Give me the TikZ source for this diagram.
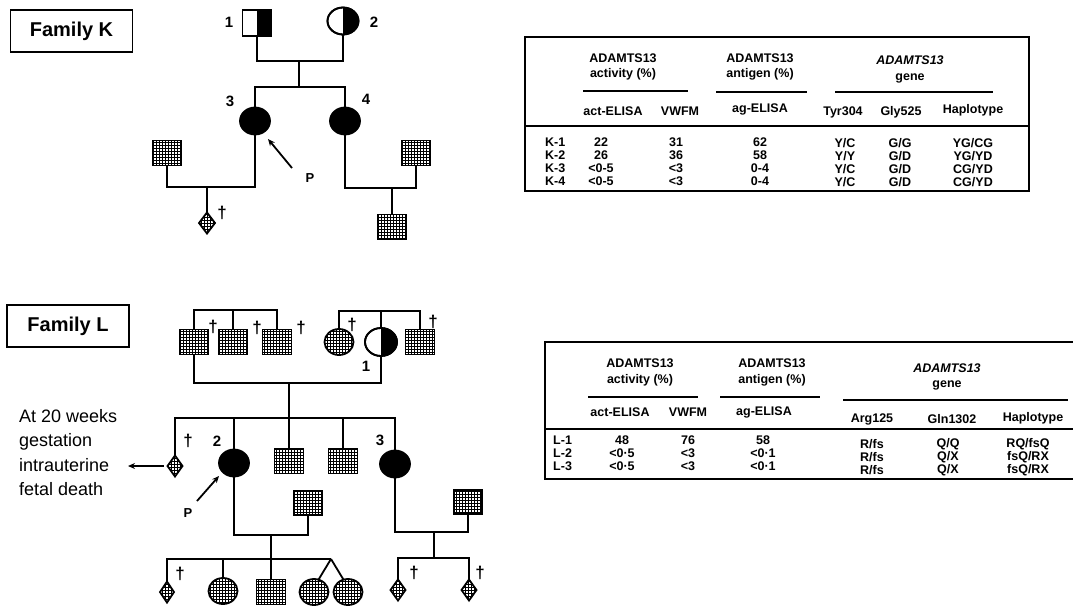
\documentclass[tikz,border=0pt]{standalone}
\usepackage{fontspec}
\setmainfont{Liberation Sans}
\usetikzlibrary{shapes.geometric,patterns,arrows.meta}
\pgfdeclarepatternformonly{mesh}{\pgfqpoint{-0.5pt}{-0.5pt}}{\pgfqpoint{3.5pt}{3.5pt}}{\pgfqpoint{3pt}{3pt}}{%
  \pgfsetlinewidth{1pt}%
  \pgfpathmoveto{\pgfqpoint{0pt}{0pt}}\pgfpathlineto{\pgfqpoint{3pt}{0pt}}%
  \pgfpathmoveto{\pgfqpoint{0pt}{0pt}}\pgfpathlineto{\pgfqpoint{0pt}{3pt}}%
  \pgfusepath{stroke}}
\begin{document}
\begin{tikzpicture}[x=1pt,y=-1pt,
  ln/.style={line width=1.8pt},
  tbl/.style={line width=1.8pt},
  uline/.style={line width=1.5pt},
  base/.style={draw, line width=1.8pt, inner sep=0pt, outer sep=0pt},
  msq/.style={base, rectangle, minimum width=29pt, minimum height=25pt, pattern=mesh},
  hsq/.style={base, rectangle, minimum width=29pt, minimum height=26pt, fill=white},
  mcirc/.style={base, ellipse, minimum width=29pt, minimum height=26pt, pattern=mesh},
  fcirc/.style={base, ellipse, minimum width=30pt, minimum height=27pt, fill=black},
  hcirc/.style={base, ellipse, minimum width=31pt, minimum height=27pt, fill=white},
  mdiam/.style={base, diamond, minimum width=16pt, minimum height=21pt, pattern=mesh},
  famlbl/.style={draw, line width=1.8pt, minimum width=122pt, minimum height=42pt, inner sep=0pt, font=\bfseries\fontsize{20}{20}\selectfont},
  idl/.style={inner sep=0pt, font=\bfseries\fontsize{15}{15}\selectfont},
  plbl/.style={inner sep=0pt, font=\bfseries\fontsize{13}{13}\selectfont},
  dag/.style={inner sep=0pt, font=\bfseries\fontsize{17}{17}\selectfont},
  tt/.style={inner sep=0pt, font=\bfseries\fontsize{12.5}{12.5}\selectfont},
  ti/.style={inner sep=0pt, font=\bfseries\itshape\fontsize{12.5}{12.5}\selectfont},
  note/.style={inner sep=0pt, align=left, anchor=north west, font=\fontsize{18}{24.5}\selectfont},
  parrow/.style={line width=1.8pt, -{Stealth[length=7pt,width=6pt]}}
]
\useasboundingbox (0,0) rectangle (1073,608);

%================ FAMILY K ================
\node[famlbl] (famK) at (71.5,31) {Family K};

\node[hsq] (K1) at (257,23) {};
\fill (K1.north) rectangle (K1.south east);
\draw[line width=1.8pt] (K1.north west) rectangle (K1.south east);
\node[idl] (K1l) at (229,22) {1};

\node[hcirc] (K2) at (343,21) {};
\fill (K2.north) arc[start angle=90, end angle=-90, x radius=15.5pt, y radius=13.5pt] -- cycle;
\draw[line width=1.8pt] (K2.center) ellipse[x radius=15.5pt, y radius=13.5pt];
\node[idl] (K2l) at (374,22) {2};

\coordinate (Km) at (299,61);
\coordinate (Ks) at (299,87);
\draw[ln] (K1.south) |- (Km) -| (K2.south);
\draw[ln] (Km) -- (Ks);

\node[fcirc] (K3) at (255,121) {};
\node[fcirc] (K4) at (345,121) {};
\node[idl] (K3l) at (230,101) {3};
\node[idl] (K4l) at (366,99) {4};
\draw[ln] (K3.north) |- (Ks) -| (K4.north);

\node[msq] (K3s) at (167,153) {};
\coordinate (K3m) at (207,187);
\draw[ln] (K3.south) |- (K3m) -| (K3s.south);
\node[mdiam] (K3c) at (207,223) {};
\draw[ln] (K3m) -- (K3c.north);
\node[dag] (K3cd) at (222,213) {†};

\coordinate (KPs) at (292,168);
\coordinate (KPe) at (268,139);
\draw[parrow] (KPs) -- (KPe);
\node[plbl] (KP) at (310,178) {P};

\node[msq] (K4s) at (416,153) {};
\coordinate (K4m) at (392,188);
\draw[ln] (K4.south) |- (K4m) -| (K4s.south);
\node[msq] (K4c) at (392,227) {};
\draw[ln] (K4m) -- (K4c.north);

%================ TABLE K ================
\draw[tbl] (525,37) rectangle (1029,191);
\draw[tbl] (525,126) -- (1029,126);
\draw[uline] (583,91) -- (688,91);
\draw[uline] (716,92) -- (807,92);
\draw[uline] (835,92) -- (993,92);
\node[tt] (tKa1) at (623,58) {ADAMTS13};
\node[tt] (tKa2) at (623,74) {activity (\%)};
\node[tt] (tKb1) at (760,58) {ADAMTS13};
\node[tt] (tKb2) at (760,74) {antigen (\%)};
\node[ti] (tKc1) at (910,60) {ADAMTS13};
\node[tt] (tKc2) at (910,78) {gene};
\node[tt] (tKh1) at (613,111) {act-ELISA};
\node[tt] (tKh2) at (680,111) {VWFM};
\node[tt] (tKh3) at (760,109) {ag-ELISA};
\node[tt] (tKh4) at (843,112) {Tyr304};
\node[tt] (tKh5) at (901,112) {Gly525};
\node[tt] (tKh6) at (973,110) {Haplotype};
\foreach \r/\y/\a/\b/\c/\d/\e/\f in {
  1/142/22/31/62/Y\slash C/G\slash G/YG\slash CG,
  2/155/26/36/58/Y\slash Y/G\slash D/YG\slash YD,
  3/168/<0-5/<3/0-4/Y\slash C/G\slash D/CG\slash YD,
  4/181/<0-5/<3/0-4/Y\slash C/G\slash D/CG\slash YD}{
  \node[tt, anchor=west] (tKr\r) at (545,\y) {K-\r};
  \node[tt] (tKa\r x) at (601,\y) {\a};
  \node[tt] (tKb\r x) at (676,\y) {\b};
  \node[tt] (tKc\r x) at (760,\y) {\c};
  \node[tt] (tKd\r x) at (845,\y+1) {\d};
  \node[tt] (tKe\r x) at (900,\y+1) {\e};
  \node[tt] (tKf\r x) at (973,\y+1) {\f};
}

%================ FAMILY L ================
\node[famlbl] (famL) at (68,326) {Family L};

\node[msq] (LA) at (194,342) {};
\node[msq] (LB) at (233,342) {};
\node[msq] (LC) at (277,342) {};
\node[dag] (LAd) at (213,327) {†};
\node[dag] (LBd) at (257,328) {†};
\node[dag] (LCd) at (301,328) {†};
\coordinate (LAt) at (233,310);
\draw[ln] (LA.north) |- (LAt) -| (LC.north);
\draw[ln] (LAt) -- (LB.north);

\node[mcirc] (LD) at (339,342) {};
\node[dag] (LDd) at (352,325) {†};
\node[hcirc, minimum width=32pt, minimum height=28pt] (L1) at (381,342) {};
\fill (L1.north) arc[start angle=90, end angle=-90, x radius=16pt, y radius=14pt] -- cycle;
\draw[line width=1.8pt] (L1.center) ellipse[x radius=16pt, y radius=14pt];
\node[idl] (L1l) at (366,366) {1};
\node[msq] (LE) at (420,342) {};
\node[dag] (LEd) at (433,322) {†};
\coordinate (LDt) at (381,311);
\draw[ln] (LD.north) |- (LDt) -| (LE.north);
\draw[ln] (LDt) -- (L1.north);

\coordinate (Lm) at (289,383);
\draw[ln] (LA.south) |- (Lm) -| (L1.south);
\coordinate (Ls) at (289,418);

\node[mdiam, minimum width=15pt] (LG) at (175,466) {};
\node[dag] (LGd) at (188,441) {†};
\node[note] (Lnote) at (19,409) {At 20 weeks\\gestation\\intrauterine\\fetal death};
\coordinate (Larr) at (128,466);
\draw[parrow, shorten <=4pt] (LG.west) -- (Larr);

\node[fcirc] (L2) at (234,463) {};
\node[idl] (L2l) at (217,441) {2};
\coordinate (LPs) at (197,501);
\coordinate (LPe) at (219,476);
\draw[parrow] (LPs) -- (LPe);
\node[plbl] (LP) at (188,513) {P};

\node[msq] (LF) at (289,461) {};
\node[msq] (LH) at (343,461) {};
\node[fcirc] (L3) at (395,464) {};
\node[idl] (L3l) at (380,440) {3};

\draw[ln] (Lm) -- (LF.north);
\draw[ln] (LG.north) |- (Ls) -| (L3.north);
\draw[ln] (L2.north) -- (L2.north |- Ls);
\draw[ln] (LH.north) -- (LH.north |- Ls);

% children of L-2
\node[msq, minimum width=28pt, minimum height=24pt] (L2s) at (308,503) {};
\coordinate (L2m) at (271,535);
\draw[ln] (L2.south) |- (L2m) -| (L2s.south);
\coordinate (Ltw) at (331,559);
\node[mdiam, minimum width=14pt] (Lc1) at (167,592) {};
\node[dag] (Lc1d) at (180,574) {†};
\node[mcirc] (Lc2) at (223,591) {};
\node[msq] (Lc3) at (271,592) {};
\node[mcirc] (Lc4) at (314,592) {};
\node[mcirc] (Lc5) at (348,592) {};
\draw[ln] (L2m) -- (Lc3.north);
\draw[ln] (Lc1.north) |- (Ltw);
\draw[ln] (Lc2.north) -- (Lc2.north |- Ltw);
\draw[ln] (Ltw) -- (Lc4.70);
\draw[ln] (Ltw) -- (Lc5.110);

% children of L-3
\node[msq, minimum width=28pt, minimum height=24pt] (L3s) at (468,502) {};
\coordinate (L3m) at (434,532);
\draw[ln] (L3.south) |- (L3m) -| (L3s.south);
\coordinate (L3c) at (434,558);
\draw[ln] (L3m) -- (L3c);
\node[mdiam, minimum width=15pt] (Ld1) at (398,590) {};
\node[mdiam, minimum width=15pt] (Ld2) at (469,590) {};
\node[dag] (Ld1d) at (414,573) {†};
\node[dag] (Ld2d) at (480,573) {†};
\draw[ln] (Ld1.north) |- (L3c) -| (Ld2.north);

%================ TABLE L ================
\draw[tbl] (1073,342) -- (545,342) -- (545,479) -- (1073,479);
\draw[tbl] (545,429) -- (1073,429);
\draw[uline] (588,397) -- (698,397);
\draw[uline] (720,397) -- (820,397);
\draw[uline] (843,400) -- (1068,400);
\node[tt] (tLa1) at (640,363) {ADAMTS13};
\node[tt] (tLa2) at (640,380) {activity (\%)};
\node[tt] (tLb1) at (772,363) {ADAMTS13};
\node[tt] (tLb2) at (772,380) {antigen (\%)};
\node[ti] (tLc1) at (947,368) {ADAMTS13};
\node[tt] (tLc2) at (947,385) {gene};
\node[tt] (tLh1) at (620,412) {act-ELISA};
\node[tt] (tLh2) at (688,412) {VWFM};
\node[tt] (tLh3) at (764,412) {ag-ELISA};
\node[tt] (tLh4) at (872,419) {Arg125};
\node[tt] (tLh5) at (952,419) {Gln1302};
\node[tt] (tLh6) at (1033,418) {Haplotype};
\foreach \r/\y/\yy/\a/\b/\c/\d/\e/\f in {
  1/440/444/48/76/58/R\slash fs/Q\slash Q/RQ\slash fsQ,
  2/453/457/<0·5/<3/<0·1/R\slash fs/Q\slash X/fsQ\slash RX,
  3/466/470/<0·5/<3/<0·1/R\slash fs/Q\slash X/fsQ\slash RX}{
  \node[tt, anchor=west] (tLr\r) at (553,\y) {L-\r};
  \node[tt] (tLa\r x) at (622,\y) {\a};
  \node[tt] (tLb\r x) at (688,\y) {\b};
  \node[tt] (tLc\r x) at (763,\y) {\c};
  \node[tt] (tLd\r x) at (872,\yy) {\d};
  \node[tt] (tLe\r x) at (948,\yy) {\e};
  \node[tt] (tLf\r x) at (1028,\yy) {\f};
}
\end{tikzpicture}
\end{document}
